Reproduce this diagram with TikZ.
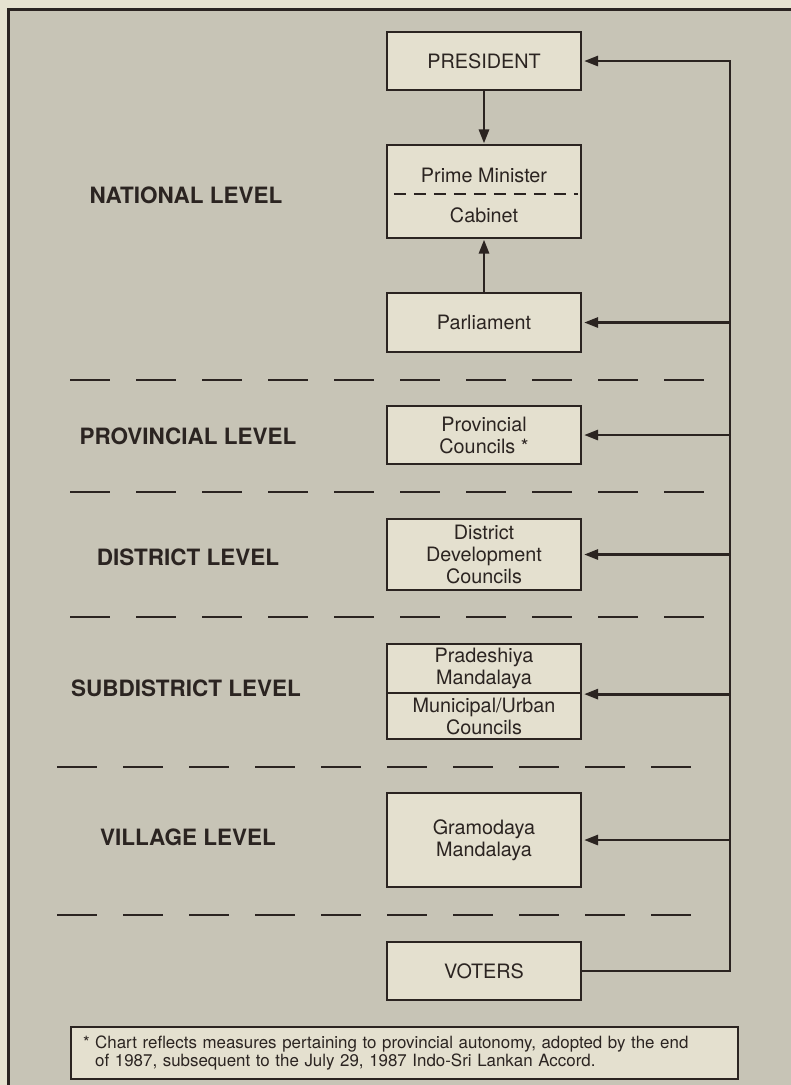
\documentclass[tikz,border=0pt]{standalone}
\usepackage{fontspec}
\setmainfont{TeX Gyre Heros}
\newfontfamily\notefont{TeX Gyre Heros}
\usetikzlibrary{arrows.meta,calc}
\definecolor{bgout}{HTML}{E6E2D0}
\definecolor{bgin}{HTML}{C7C4B6}
\definecolor{boxfill}{HTML}{E4E0CF}
\definecolor{ink}{HTML}{2B2421}
\tikzset{
  box/.style={draw=ink, line width=2.2pt, fill=boxfill, minimum width=194pt, inner sep=0pt,
    align=center, font=\fontsize{19.8}{22}\selectfont, text=ink},
  txt/.style={inner sep=0pt, align=center, font=\fontsize{19.8}{22}\selectfont, text=ink},
  lvl/.style={inner sep=0pt, font=\bfseries\fontsize{22.5}{24}\selectfont, text=ink},
  conn/.style={draw=ink, line width=2.8pt, line join=miter},
  arr/.style={conn, -{Triangle[length=14pt,width=10pt]}, shorten >=2pt},
  sep/.style={draw=ink, line width=2pt, dash pattern=on 40pt off 26pt},
}
\begin{document}
\begin{tikzpicture}[x=1pt,y=-1pt]
\useasboundingbox (0,0) rectangle (791,1085);
\fill[bgout] (0,0) rectangle (791,1085);
\fill[bgin] (8.5,9.5) rectangle (791,1085);
\draw[ink, line width=2.4pt] (8.5,1085) -- (8.5,9.5) -- (791,9.5);

% boxes
\node[box, minimum height=58pt] (pres) at (484,61) {PRESIDENT};
\node[box, minimum height=93pt] (pm) at (484,191.5) {};
\node[txt] (pmt) at (484,175) {Prime Minister};
\node[txt] (cab) at (484,215) {Cabinet};
\draw[ink, line width=1.6pt, dash pattern=on 12pt off 8pt] ($(pm.west)+(8,2.5)$) -- ($(pm.east)+(-4,2.5)$);
\node[box, minimum height=59pt] (parl) at (484,322.5) {Parliament};
\node[box, minimum height=58pt] (prov) at (484,435) {Provincial\\Councils *};
\node[box, minimum height=71pt] (dist) at (484,554.5) {District\\Development\\Councils};
\node[box, minimum height=49pt] (subA) at (484,668.5) {Pradeshiya\\Mandalaya};
\node[box, minimum height=46pt] (subB) at (484,716) {Municipal/Urban\\Councils};
\node[box, minimum height=94pt] (gram) at (484,840) {Gramodaya\\Mandalaya};
\node[box, minimum height=58pt] (vot) at (484,971) {VOTERS};

% level labels
\node[lvl] (l1) at (186,195) {NATIONAL LEVEL};
\node[lvl] (l2) at (188,436) {PROVINCIAL LEVEL};
\node[lvl] (l3) at (188,557) {DISTRICT LEVEL};
\node[lvl] (l4) at (186,688) {SUBDISTRICT LEVEL};
\node[lvl] (l5) at (188,837) {VILLAGE LEVEL};

% separators
\draw[sep] (70,380) -- (704,380);
\draw[sep] (70,492) -- (704,492);
\draw[sep] (70,617) -- (704,617);
\draw[sep] (57,767) -- (691,767);
\draw[sep] (57,915) -- (691,915);

% connectors
\coordinate (rt) at (730,61);
\draw[arr] (vot.east) -| (rt) -- (pres.east);
\foreach \n in {parl,prov,dist,gram} \draw[arr] (rt |- \n.east) -- (\n.east);
\draw[arr] (rt |- subA.south east) -- (subA.south east);
\draw[arr, shorten >=0.5pt] (pres.south) -- (pm.north);
\draw[arr, shorten >=0.5pt] (parl.north) -- (pm.south);

% footnote
\node[draw=ink, line width=1.8pt, fill=boxfill, text width=643pt, inner xsep=12pt, inner ysep=0pt,
  minimum height=52pt, align=left, font=\notefont\fontsize{16.9}{18.5}\selectfont, text=ink] (note) at (404.5,1053)
  {* Chart reflects measures pertaining to provincial autonomy, adopted by the end\\
   \phantom{*}\ of 1987, subsequent to the July 29, 1987 Indo-Sri Lankan Accord.};
\end{tikzpicture}
\end{document}
